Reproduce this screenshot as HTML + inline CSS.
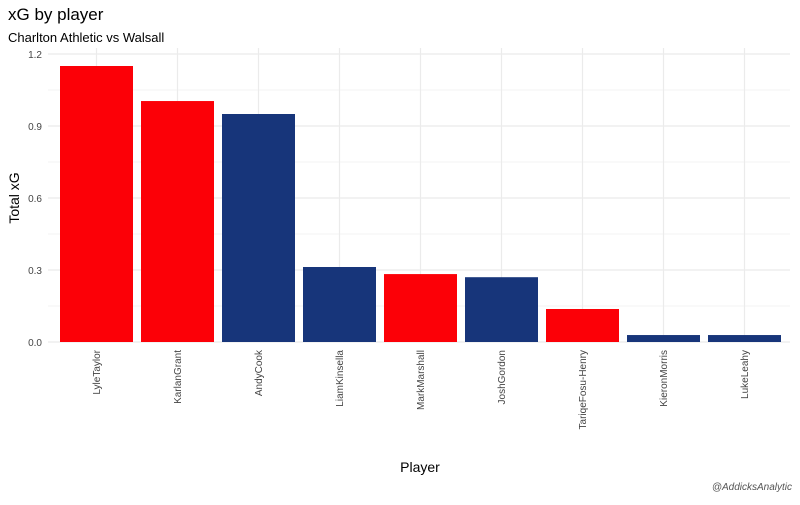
<!DOCTYPE html>
<html><head><meta charset="utf-8"><style>
body{margin:0;background:#fff;font-family:"Liberation Sans",sans-serif}
</style></head><body>
<svg width="800" height="500" font-family="Liberation Sans, sans-serif">
<text x="8" y="20" font-size="17" fill="#000">xG by player</text>
<text x="8" y="42" font-size="13" fill="#000">Charlton Athletic vs Walsall</text>
<g id="grid"></g><g id="bars"></g><g id="labels"></g>
<text x="19" y="198" font-size="14" text-anchor="middle" transform="rotate(-90 19 198)">Total xG</text>
<text x="420" y="472" font-size="14" text-anchor="middle">Player</text>
<text x="792" y="490" font-size="10" font-style="italic" fill="#555" text-anchor="end">@AddicksAnalytic</text>
</svg>
<script>
const players=["LyleTaylor","KarlanGrant","AndyCook","LiamKinsella","MarkMarshall","JoshGordon","TariqeFosu-Henry","KieronMorris","LukeLeahy"];
const xg=[1.15,1.004,0.95,0.3125,0.283,0.27,0.1375,0.029,0.029];
const teams=["Charlton","Charlton","Walsall","Walsall","Charlton","Walsall","Charlton","Walsall","Walsall"];
const yTicks=[0,0.3,0.6,0.9,1.2];
const yTickLabels=["0.0","0.3","0.6","0.9","1.2"];
const NS="http://www.w3.org/2000/svg";
const y=v=>342-v*240;
const x=i=>96.5+81*i;
function mk(t,a,p){const e=document.createElementNS(NS,t);for(const k in a)e.setAttribute(k,a[k]);p.appendChild(e);return e;}
const g=document.getElementById('grid'),b=document.getElementById('bars'),l=document.getElementById('labels');
for(let k=0;k<yTicks.length-1;k++){const m=mk('line',{x1:48,x2:790,y1:y((yTicks[k]+yTicks[k+1])/2),y2:y((yTicks[k]+yTicks[k+1])/2),stroke:'#f3f3f3','stroke-width':1},g);

}
yTicks.forEach((t,k)=>{const m=mk('line',{x1:48,x2:790,y1:y(t),y2:y(t),stroke:'#ebebeb','stroke-width':1.2},g);


const tx=mk('text',{x:42,y:y(t)+4,'font-size':10,fill:'#444','text-anchor':'end'},l);tx.textContent=yTickLabels[k];

});
players.forEach((p,i)=>{const m=mk('line',{x1:x(i),x2:x(i),y1:48,y2:342,stroke:'#ebebeb','stroke-width':1.2},g);


const r=mk('rect',{x:x(i)-36.5,width:73,y:y(xg[i]),height:y(0)-y(xg[i]),fill:teams[i]==="Charlton"?'#fc0007':'#17357a'},b);


const tx=mk('text',{x:0,y:0,'font-size':10,fill:'#444','text-anchor':'end',transform:`translate(${x(i)+3.5},350) rotate(-90)`},l);tx.textContent=p;

});
</script>
</body></html>
